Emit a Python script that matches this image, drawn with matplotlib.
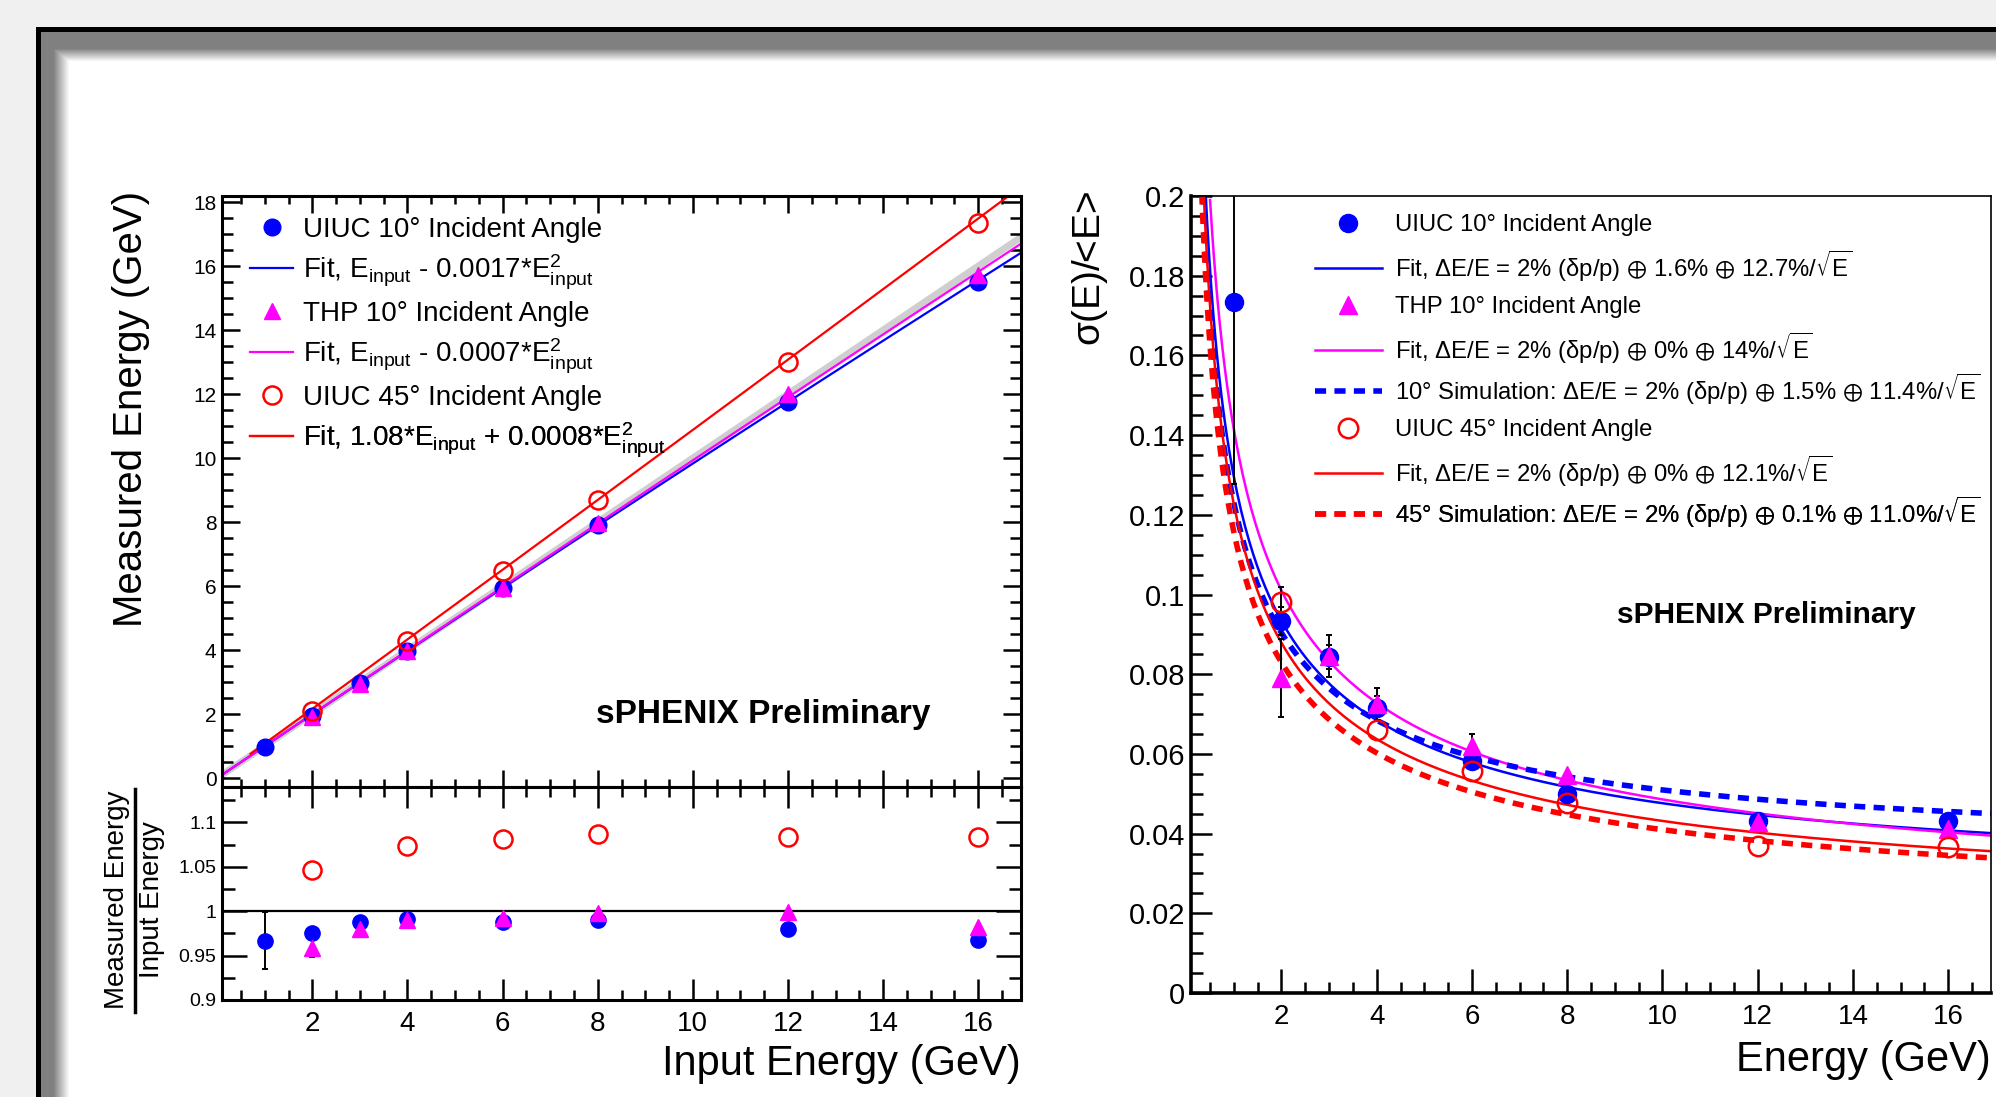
import numpy as np
import matplotlib
matplotlib.use("Agg")
import matplotlib.pyplot as plt
from matplotlib.lines import Line2D
from matplotlib.ticker import MultipleLocator, FormatStrFormatter

plt.rcParams['font.family'] = ['Liberation Sans', 'DejaVu Sans']
plt.rcParams['mathtext.default'] = 'regular'
plt.rcParams['lines.scale_dashes'] = False

# ---------------- data: linearity (left) ----------------
e_uiuc10 = [1, 2, 3, 4, 6, 8, 12, 16]
meas_uiuc10 = [0.967, 1.95, 2.96, 3.96, 5.93, 7.92, 11.76, 15.49]
ratio_uiuc10 = [0.967, 0.976, 0.988, 0.991, 0.988, 0.990, 0.980, 0.968]
ratio_err_uiuc10 = [0.032, 0, 0, 0, 0, 0, 0, 0]

e_thp10 = [2, 3, 4, 6, 8, 12, 16]
meas_thp10 = [1.92, 2.94, 3.96, 5.95, 7.98, 11.99, 15.71]
ratio_thp10 = [0.959, 0.980, 0.990, 0.992, 0.998, 0.999, 0.982]
ratio_err_thp10 = [0.011, 0, 0, 0, 0, 0, 0]

e_uiuc45 = [2, 4, 6, 8, 12, 16]
meas_uiuc45 = [2.09, 4.29, 6.48, 8.70, 13.0, 17.35]
ratio_uiuc45 = [1.047, 1.073, 1.081, 1.087, 1.084, 1.084]

# fit: a*E + b*E^2, with fit start energy
lin_fit_a = [1.0, 1.0, 1.08]
lin_fit_b = [-0.0017, -0.0007, 0.0008]
lin_fit_start = [0.1, 0.1, 0.7]

# ---------------- data: resolution (right) ----------------
e_res_uiuc10 = [1, 2, 3, 4, 6, 8, 12, 16]
res_uiuc10 = [0.1734, 0.0933, 0.0843, 0.0715, 0.0583, 0.0500, 0.0432, 0.0432]
res_err_uiuc10 = [0.0457, 0.0035, 0.003, 0.003, 0.002, 0, 0, 0]

e_res_thp10 = [2, 3, 4, 6, 8, 12, 16]
res_thp10 = [0.0791, 0.0845, 0.0724, 0.0619, 0.0548, 0.0430, 0.0411]
res_err_thp10 = [0.0098, 0.0053, 0.0042, 0.003, 0, 0, 0]

e_res_uiuc45 = [2, 4, 6, 8, 12, 16]
res_uiuc45 = [0.0982, 0.0659, 0.0556, 0.0476, 0.0369, 0.0366]
res_err_uiuc45 = [0.0036, 0, 0, 0, 0, 0]

# curves: sigma/E = const (+) stoch/sqrt(E)
res_curve_const = [0.0256, 0.020, 0.0347, 0.020, 0.0195]
res_curve_stoch = [0.127, 0.140, 0.118, 0.121, 0.114]
res_curve_start = [0.1, 0.5, 0.1, 0.1, 0.1]

BLUE, MAG, RED = '#0000ff', '#ff00ff', '#ff0000'

W, H = 1996, 1097
fig = plt.figure(figsize=(W / 100, H / 100), dpi=100)


def fr(x0, y0, x1, y1):
    return [x0 / W, 1 - y1 / H, (x1 - x0) / W, (y1 - y0) / H]


def error_bars(ax, e, v, err, cap):
    e, v, err = np.asarray(e, float), np.asarray(v, float), np.asarray(err, float)
    m = err > 0
    ax.errorbar(e[m], v[m], yerr=err[m], fmt='none', ecolor='k', elinewidth=1.4,
                capsize=cap, capthick=1.4, zorder=3)


# slide frame background
bg = fig.add_axes([0, 0, 1, 1], zorder=-10)
yy, xx = np.mgrid[0:H, 0:W]
img = np.full((H, W), 0.94)
img[(xx >= 36) & (yy >= 27)] = 0.0
inner = (xx >= 41) & (yy >= 32)
sx = np.clip((xx - 41 - 12) / 16.0, 0, 1)
sy = np.clip((yy - 32 - 16) / 13.0, 0, 1)
shade = 0.5 + 0.5 * np.minimum(sx, sy)
img[inner] = shade[inner]
bg.imshow(img, cmap='gray', vmin=0, vmax=1, aspect='auto', interpolation='bilinear')
bg.axis('off')

ax1 = fig.add_axes(fr(222, 196, 1021, 787))
ax2 = fig.add_axes(fr(222, 787, 1021, 1000))
ax3 = fig.add_axes(fr(1191, 196, 1991, 993))

for ax in (ax1, ax2, ax3):
    ax.set_xlim(0.1, 16.9)
    ax.xaxis.set_major_locator(MultipleLocator(2))
    ax.xaxis.set_minor_locator(MultipleLocator(0.5))
    ax.xaxis.set_major_formatter(FormatStrFormatter('%g'))
    ax.yaxis.set_major_formatter(FormatStrFormatter('%g'))

# ---------- upper left ----------
ax1.set_ylim(-0.28, 18.19)
ax1.yaxis.set_major_locator(MultipleLocator(2))
ax1.yaxis.set_minor_locator(MultipleLocator(0.5))
e_line = np.linspace(0.1, 16.9, 100)
ax1.plot(e_line, e_line, color='#cfcfcf', lw=5, zorder=1)
fit_cols = [BLUE, MAG, RED]
fit_lines = []
for a, b, s, c in zip(lin_fit_a, lin_fit_b, lin_fit_start, fit_cols):
    ee = np.linspace(s, 16.9, 300)
    ln, = ax1.plot(ee, a * ee + b * ee ** 2, color=c, lw=1.6, zorder=2)
    fit_lines.append(ln)
h_b, = ax1.plot(e_uiuc10, meas_uiuc10, 'o', color=BLUE, ms=12, zorder=4)
h_m, = ax1.plot(e_thp10, meas_thp10, '^', color=MAG, ms=12, zorder=5)
h_r, = ax1.plot(e_uiuc45, meas_uiuc45, 'o', mfc='none', mec=RED, mew=1.8, ms=13, zorder=6)
ax1.tick_params(axis='x', which='both', labelbottom=False)
ax1.tick_params(axis='both', which='both', direction='in', top=True, right=True, width=1.8)
ax1.tick_params(axis='x', which='major', length=12)
ax1.tick_params(axis='x', which='minor', length=6)
ax1.tick_params(axis='y', which='major', length=13, labelsize=15, pad=4)
ax1.tick_params(axis='y', which='minor', length=8)

ax1.text(0.678, 0.122, 'sPHENIX Preliminary', transform=ax1.transAxes,
         fontsize=24, fontweight='bold', ha='center', va='center')

left_entries = [
    (h_b, 'UIUC 10\u00b0 Incident Angle'),
    (fit_lines[0], r'Fit, E$_{input}$ - 0.0017*E$_{input}^{2}$'),
    (h_m, 'THP 10\u00b0 Incident Angle'),
    (fit_lines[1], r'Fit, E$_{input}$ - 0.0007*E$_{input}^{2}$'),
    (h_r, 'UIUC 45\u00b0 Incident Angle'),
    (fit_lines[2], r'Fit, 1.08*E$_{input}$ + 0.0008*E$_{input}^{2}$'),
]
for i, (h, lab) in enumerate(left_entries):
    yc = 230 + 42 * i
    lg = ax1.legend([h], [lab], loc='center left', frameon=False, fontsize=20,
                    bbox_to_anchor=((250 - 222) / 799, 1 - (yc - 196) / 591),
                    borderpad=0, borderaxespad=0, handlelength=1.55,
                    handletextpad=0.35, numpoints=1)
    ax1.add_artist(lg)

# ---------- lower left (ratio) ----------
ax2.set_ylim(0.9, 1.14)
ax2.yaxis.set_major_locator(MultipleLocator(0.05))
ax2.yaxis.set_minor_locator(MultipleLocator(0.025))
ax2.axhline(1.0, color='k', lw=1.6, zorder=1)
error_bars(ax2, e_uiuc10, ratio_uiuc10, ratio_err_uiuc10, 2)
error_bars(ax2, e_thp10, ratio_thp10, ratio_err_thp10, 2)
ax2.plot(e_uiuc10, ratio_uiuc10, 'o', color=BLUE, ms=11, zorder=4)
ax2.plot(e_thp10, ratio_thp10, '^', color=MAG, ms=11, zorder=5)
ax2.plot(e_uiuc45, ratio_uiuc45, 'o', mfc='none', mec=RED, mew=1.8, ms=13, zorder=6)
ax2.tick_params(axis='both', which='both', direction='in', top=True, right=True, width=1.8)
ax2.tick_params(axis='x', which='major', length=15, labelsize=20, pad=8)
ax2.tick_params(axis='x', which='minor', length=7)
ax2.tick_params(axis='y', which='major', length=18, labelsize=14, pad=4)
ax2.tick_params(axis='y', which='minor', length=9)

for ax in (ax1, ax2):
    for sp in ax.spines.values():
        sp.set_linewidth(2.2)

# ---------- right (resolution) ----------
ax3.set_ylim(0, 0.2)
ax3.yaxis.set_major_locator(MultipleLocator(0.02))
ax3.yaxis.set_minor_locator(MultipleLocator(0.005))
curve_cols = [BLUE, MAG, BLUE, RED, RED]
curve_ls = ['-', '-', '--', '-', '--']
curve_lines = []
for c0, st, s, col, ls in zip(res_curve_const, res_curve_stoch, res_curve_start, curve_cols, curve_ls):
    ee = np.linspace(s, 16.9, 400)
    yy_c = np.sqrt(c0 ** 2 + st ** 2 / ee)
    if ls == '--':
        ln, = ax3.plot(ee, yy_c, color=col, lw=4, dashes=(8, 6), zorder=2)
    else:
        ln, = ax3.plot(ee, yy_c, color=col, lw=1.8, zorder=2)
    curve_lines.append(ln)
error_bars(ax3, e_res_uiuc10, res_uiuc10, res_err_uiuc10, 2.5)
error_bars(ax3, e_res_thp10, res_thp10, res_err_thp10, 2.5)
error_bars(ax3, e_res_uiuc45, res_uiuc45, res_err_uiuc45, 2.5)
ax3.plot(e_res_uiuc10, res_uiuc10, 'o', color=BLUE, ms=13, zorder=4)
ax3.plot(e_res_thp10, res_thp10, '^', color=MAG, ms=13, zorder=5)
ax3.plot(e_res_uiuc45, res_uiuc45, 'o', mfc='none', mec=RED, mew=1.8, ms=14, zorder=6)
ax3.tick_params(axis='both', which='both', direction='in', width=1.8)
ax3.tick_params(axis='x', which='major', length=17, labelsize=20, pad=8)
ax3.tick_params(axis='x', which='minor', length=8)
ax3.tick_params(axis='y', which='major', length=15, labelsize=21, pad=4)
ax3.tick_params(axis='y', which='minor', length=8.5)
ax3.spines['left'].set_linewidth(2.6)
ax3.spines['bottom'].set_linewidth(2.6)
ax3.spines['top'].set_linewidth(1.2)
ax3.spines['right'].set_linewidth(1.2)

ax3.text(0.719, 0.474, 'sPHENIX Preliminary', transform=ax3.transAxes,
         fontsize=21.5, fontweight='bold', ha='center', va='center')

h3_b = Line2D([], [], marker='o', ls='none', color=BLUE, ms=13)
h3_m = Line2D([], [], marker='^', ls='none', color=MAG, ms=13)
h3_r = Line2D([], [], marker='o', ls='none', mfc='none', mec=RED, mew=1.8, ms=14)
right_entries = [
    (h3_b, 'UIUC 10\u00b0 Incident Angle'),
    (curve_lines[0], r'Fit, $\Delta$E/E = 2% ($\delta$p/p) $\oplus$ 1.6% $\oplus$ 12.7%/$\sqrt{E}$'),
    (h3_m, 'THP 10\u00b0 Incident Angle'),
    (curve_lines[1], r'Fit, $\Delta$E/E = 2% ($\delta$p/p) $\oplus$ 0% $\oplus$ 14%/$\sqrt{E}$'),
    (curve_lines[2], r'10$\degree$ Simulation: $\Delta$E/E = 2% ($\delta$p/p) $\oplus$ 1.5% $\oplus$ 11.4%/$\sqrt{E}$'),
    (h3_r, 'UIUC 45\u00b0 Incident Angle'),
    (curve_lines[3], r'Fit, $\Delta$E/E = 2% ($\delta$p/p) $\oplus$ 0% $\oplus$ 12.1%/$\sqrt{E}$'),
    (curve_lines[4], r'45$\degree$ Simulation: $\Delta$E/E = 2% ($\delta$p/p) $\oplus$ 0.1% $\oplus$ 11.0%/$\sqrt{E}$'),
]
for i, (h, lab) in enumerate(right_entries):
    yc = 225 + 41 * i
    lg = ax3.legend([h], [lab], loc='center left', frameon=False, fontsize=17.2,
                    bbox_to_anchor=((1315 - 1191) / 800, 1 - (yc - 196) / 797),
                    borderpad=0, borderaxespad=0, handlelength=2.8,
                    handletextpad=0.55, numpoints=1)
    ax3.add_artist(lg)

# ---------- axis titles ----------
fig.text(1021 / W, 1 - 1064 / H, 'Input Energy (GeV)', fontsize=30, ha='right', va='center')
fig.text(1991 / W, 1 - 1060 / H, 'Energy (GeV)', fontsize=30, ha='right', va='center')
fig.text(131 / W, 1 - 191 / H, 'Measured Energy (GeV)', fontsize=29, rotation=90,
         ha='center', va='top')
fig.text(1090 / W, 1 - 191 / H, r'$\sigma$(E)/<E>', fontsize=28, rotation=90,
         ha='center', va='top')
fig.text(117 / W, 1 - 900 / H, 'Measured Energy', fontsize=20, rotation=90,
         ha='center', va='center')
fig.text(152 / W, 1 - 900 / H, 'Input Energy', fontsize=20, rotation=90,
         ha='center', va='center')
fig.add_artist(Line2D([135 / W, 135 / W], [1 - 789 / H, 1 - 1012 / H], color='k', lw=2.5))

fig.savefig('out.png', dpi=100)
